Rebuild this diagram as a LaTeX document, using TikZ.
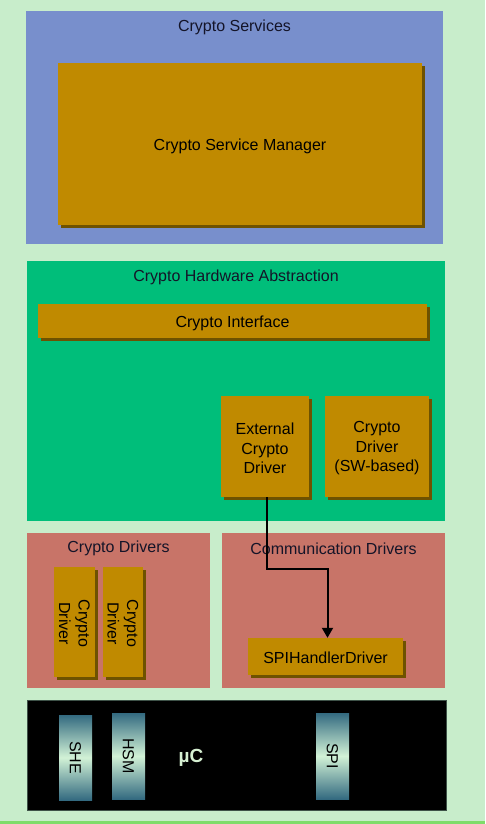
\documentclass[tikz,border=0pt]{standalone}
\usepackage{fontspec}
\setmainfont{Liberation Sans}
\usetikzlibrary{arrows.meta,shadows}
\definecolor{bgc}{HTML}{C8EDCB}
\definecolor{bottomline}{HTML}{7FDC6A}
\definecolor{bluec}{HTML}{788FCC}
\definecolor{orangec}{HTML}{C08A00}
\definecolor{shadowc}{HTML}{6E5200}
\definecolor{lightedge}{HTML}{DCC060}
\definecolor{greenc}{HTML}{00BE7A}
\definecolor{redc}{HTML}{C87468}
\definecolor{tealc}{HTML}{336A80}
\definecolor{palec}{HTML}{D2F2D6}
\definecolor{uctext}{HTML}{D6F0D2}
\definecolor{titlec}{HTML}{141428}
\definecolor{ucborder}{HTML}{3E5248}
\tikzset{
  container/.style={draw=none, inner sep=0pt},
  title/.style={font=\fontsize{16}{19.5}\selectfont, text=titlec, inner sep=0pt},
  obox/.style={fill=orangec, draw=none, inner sep=0pt,
    font=\fontsize{16}{19.5}\selectfont, text=black, align=center,
    drop shadow={shadow xshift=3pt, shadow yshift=-3pt, fill=shadowc, opacity=1},
    append after command={
      \pgfextra{\draw[lightedge, line width=1.6pt]
        ([xshift=0.8pt]\tikzlastnode.south west) -- ([xshift=0.8pt,yshift=-0.8pt]\tikzlastnode.north west)
        -- ([yshift=-0.8pt]\tikzlastnode.north east);}
    }},
  oneline/.style={text height=16.8pt, text depth=3.4pt},
  mltext/.style={font=\fontsize{16}{19.5}\selectfont, text=black, align=center, inner sep=0pt, yshift=-2pt},
  vtext/.style={font=\fontsize{16}{19.5}\selectfont, text=black, align=center, rotate=-90, inner sep=0pt},
  hwbox/.style={draw=none, inner sep=0pt, top color=tealc, bottom color=tealc, middle color=palec},
  conn/.style={line width=2pt, -{Triangle[length=10pt,width=11pt]}},
}
\begin{document}
\begin{tikzpicture}[x=1pt,y=-1pt]
\fill[bgc] (0,0) rectangle (485,824);
\fill[bottomline] (0,821) rectangle (485,824);
\useasboundingbox (0,0) rectangle (485,824);

% Crypto Services
\node[container, fill=bluec, minimum width=417pt, minimum height=233pt] (cs) at (234.5,127.5) {};
\node[title] (cst) at (234.5,27.5) {Crypto Services};
\node[obox, oneline, minimum width=364pt, minimum height=162pt] (csm) at (240,144) {Crypto Service Manager};

% Crypto Hardware Abstraction
\node[container, fill=greenc, minimum width=418pt, minimum height=260pt] (cha) at (236,391) {};
\node[title] (chat) at (236,277) {Crypto Hardware Abstraction};
\node[obox, oneline, minimum width=389pt, minimum height=34pt] (ci) at (232.5,321) {Crypto Interface};
\node[obox, minimum width=88pt, minimum height=101pt,
  label={[mltext]center:External\\Crypto\\Driver}] (ext) at (265,446.5) {};
\node[obox, minimum width=104pt, minimum height=101pt,
  label={[mltext]center:Crypto\\Driver\\(SW-based)}] (sw) at (377,446.5) {};

% Crypto Drivers
\node[container, fill=redc, minimum width=183pt, minimum height=155pt] (cd) at (118.5,610.5) {};
\node[title] (cdt) at (118.5,548.5) {Crypto Drivers};
\node[obox, minimum width=41pt, minimum height=110pt] (cd1) at (74.5,622) {};
\node[vtext] (cd1t) at ([yshift=-1.5pt]cd1.center) {Crypto\\Driver};
\node[obox, minimum width=40pt, minimum height=110pt] (cd2) at (123,622) {};
\node[vtext] (cd2t) at ([yshift=-1.5pt]cd2.center) {Crypto\\Driver};

% Communication Drivers
\node[container, fill=redc, minimum width=223pt, minimum height=155pt] (comm) at (333.5,610.5) {};
\node[title] (commt) at (333.5,548.5) {Communication Drivers};
\node[obox, oneline, minimum width=155pt, minimum height=37pt] (spih) at (325.5,656.5) {SPIHandlerDriver};

% uC
\node[container, fill=black, draw=ucborder, line width=0.8pt, minimum width=419pt, minimum height=110pt] (uc) at (236.5,755) {};
\node[hwbox, minimum width=33pt, minimum height=85pt] (she) at (75.5,757.5) {};
\node[vtext] (shet) at (she.center) {SHE};
\node[hwbox, minimum width=33pt, minimum height=86pt] (hsm) at (128.5,756) {};
\node[vtext] (hsmt) at (hsm.center) {HSM};
\node[hwbox, minimum width=33pt, minimum height=86pt] (spi) at (332.5,756) {};
\node[vtext] (spit) at (spi.center) {SPI};
\node[font=\bfseries\fontsize{19}{22}\selectfont, text=uctext, inner sep=0pt] (uct) at (191,758) {µC};

% connector
\coordinate (bend) at (267,569);
\draw[conn] ([xshift=2pt]ext.south) -- ([xshift=2pt]ext.south |- bend) -| ([xshift=2pt]spih.north);
\end{tikzpicture}
\end{document}
